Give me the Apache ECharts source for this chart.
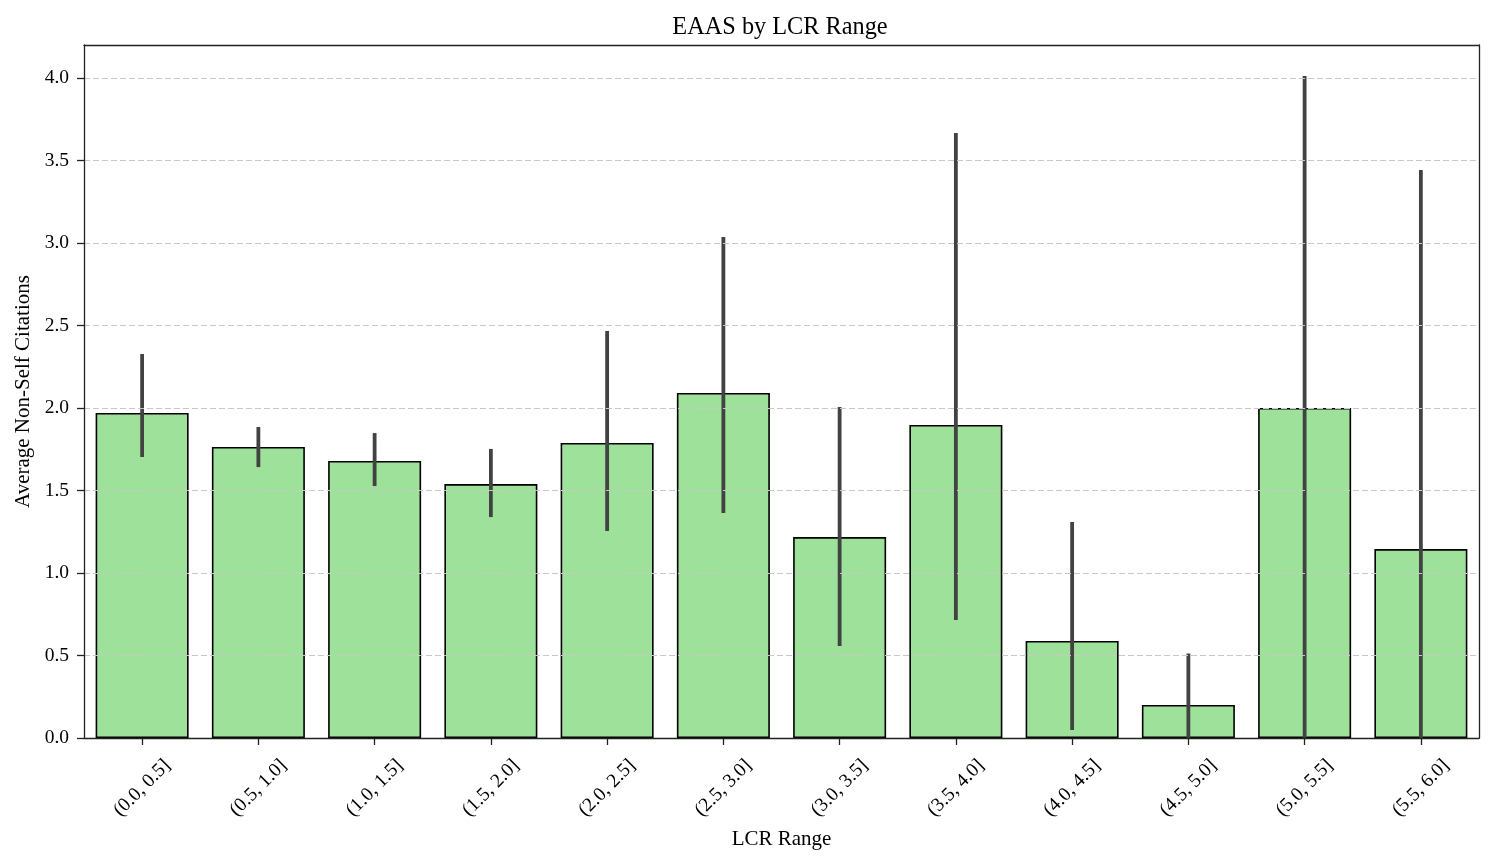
<!DOCTYPE html>
<html>
<head>
<meta charset="utf-8">
<script src="https://cdn.jsdelivr.net/npm/echarts@6/dist/echarts.min.js"></script>
<style>html,body{margin:0;padding:0;background:#fff}#c{width:1494px;height:864px}</style>
</head>
<body>
<div id="c"></div>
<script>
const categories = ['(0.0, 0.5]','(0.5, 1.0]','(1.0, 1.5]','(1.5, 2.0]','(2.0, 2.5]','(2.5, 3.0]','(3.0, 3.5]','(3.5, 4.0]','(4.0, 4.5]','(4.5, 5.0]','(5.0, 5.5]','(5.5, 6.0]'];
const means = [1.97, 1.764, 1.679, 1.539, 1.788, 2.091, 1.218, 1.897, 0.588, 0.2, 2.0, 1.145];
const errLow = [1.703, 1.642, 1.527, 1.339, 1.255, 1.364, 0.558, 0.715, 0.048, 0.0, 0.0, 0.0];
const errHigh = [2.327, 1.885, 1.848, 1.752, 2.467, 3.036, 2.006, 3.667, 1.309, 0.512, 4.012, 3.442];
const yTicks = [0, 0.5, 1.0, 1.5, 2.0, 2.5, 3.0, 3.5, 4.0];

const FONT = '"Liberation Serif","Times New Roman",serif';
const chart = echarts.init(document.getElementById('c'));
const errData = categories.map((c, i) => [i, errLow[i], errHigh[i]]);
const AX = '#222';
const GL = 84, GR = 15;

chart.setOption({
  animation: false,
  backgroundColor: '#fff',
  title: {
    text: 'EAAS by LCR Range', left: 775, textAlign: 'center', top: 11,
    textStyle: { fontFamily: FONT, fontSize: 24.3, fontWeight: 'normal', color: '#000' }
  },
  grid: { left: GL, right: GR, top: 45, bottom: 126, containLabel: false, outerBoundsMode: 'none' },
  xAxis: [{
    type: 'category', data: categories,
    name: 'LCR Range', nameLocation: 'middle', nameGap: 91, nameMoveOverlap: false,
    nameTextStyle: { fontFamily: FONT, fontSize: 21, color: '#000' },
    axisLine: { show: true, lineStyle: { color: AX, width: 1.3 } },
    axisTick: { show: true, alignWithLabel: true, length: 7, lineStyle: { color: AX, width: 1.3 } },
    axisLabel: { rotate: 45, align: 'center', verticalAlign: 'middle', margin: 50, fontFamily: FONT, fontSize: 19.5, color: '#000', interval: 0 },
    splitLine: { show: false },
    z: 10
  }, {
    type: 'category', data: categories, position: 'top',
    axisLine: { show: true, onZero: false, lineStyle: { color: AX, width: 1.3 } },
    axisTick: { show: false }, axisLabel: { show: false }, splitLine: { show: false },
    z: 10
  }],
  yAxis: [{
    type: 'value', min: 0, max: 4.2, interval: 0.5,
    name: 'Average Non-Self Citations', nameLocation: 'middle', nameGap: 50, nameMoveOverlap: false,
    nameTextStyle: { fontFamily: FONT, fontSize: 21, color: '#000' },
    axisLine: { show: true, lineStyle: { color: AX, width: 1.3 } },
    axisTick: { show: true, length: 7, customValues: yTicks, lineStyle: { color: AX, width: 1.3 } },
    axisLabel: {
      fontFamily: FONT, fontSize: 19.5, color: '#000', margin: 15, customValues: yTicks,
      formatter: v => v.toFixed(1)
    },
    splitLine: { show: true, lineStyle: { color: '#c8c8c8', type: [6, 3], width: 1.1 } },
    z: 10
  }, {
    type: 'value', min: 0, max: 4.2, interval: 0.5, position: 'right',
    axisLine: { show: true, lineStyle: { color: AX, width: 1.3 } },
    axisTick: { show: false }, axisLabel: { show: false }, splitLine: { show: false },
    z: 10
  }],
  series: [
    {
      type: 'bar', data: means, barWidth: '80%',
      itemStyle: { color: '#9de19a', borderColor: '#000', borderWidth: 1.6 },
      z: 2
    },
    {
      type: 'custom', data: errData, z: 5,
      renderItem: function (params, api) {
        const x = api.value(0);
        const p1 = api.coord([x, api.value(1)]);
        const p2 = api.coord([x, api.value(2)]);
        return {
          type: 'line',
          shape: { x1: p1[0], y1: p1[1], x2: p2[0], y2: p2[1] },
          style: { stroke: '#424242', lineWidth: 3.8 }
        };
      }
    }
  ]
});
</script>
</body>
</html>
